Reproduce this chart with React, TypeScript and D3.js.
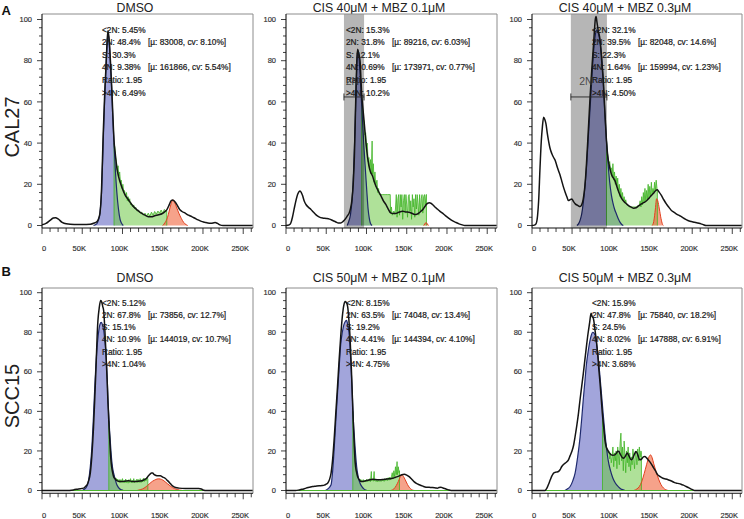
import React from 'react';
import * as d3 from 'd3';

type Pt = [number, number];

// ---------- text content ----------
const panelTitles = ["DMSO", "CIS 40μM + MBZ 0.1μM", "CIS 40μM + MBZ 0.3μM", "DMSO", "CIS 50μM + MBZ 0.1μM", "CIS 50μM + MBZ 0.3μM"];
const rowLabels = ["CAL27", "SCC15"];
const rowLetters = ["A", "B"];
const xTickValues = [0, 50, 100, 150, 200, 250];
const xTickLabels = ["0", "50K", "100K", "150K", "200K", "250K"];
const yTickValues = [0, 20, 40, 60, 80, 100];

const statLines: string[][] = [
  ["<2N: 5.45%", "2N: 48.4%", "S: 30.3%", "4N: 9.38%", "Ratio: 1.95", ">4N: 6.49%"],
  ["<2N: 15.3%", "2N: 31.8%", "S: 12.1%", "4N: 0.69%", "Ratio: 1.95", ">4N: 10.2%"],
  ["<2N: 32.1%", "2N: 39.5%", "S: 22.3%", "4N: 1.64%", "Ratio: 1.95", ">4N: 4.50%"],
  ["<2N: 5.12%", "2N: 67.8%", "S: 15.1%", "4N: 10.9%", "Ratio: 1.95", ">4N: 1.04%"],
  ["<2N: 8.15%", "2N: 63.5%", "S: 19.2%", "4N: 4.41%", "Ratio: 1.95", ">4N: 4.75%"],
  ["<2N: 15.9%", "2N: 47.8%", "S: 24.5%", "4N: 8.02%", "Ratio: 1.95", ">4N: 3.68%"],
];
const fitG1Labels = ["[µ: 83008, cv: 8.10%]", "[µ: 89216, cv: 6.03%]", "[µ: 82048, cv: 14.6%]", "[µ: 73856, cv: 12.7%]", "[µ: 74048, cv: 13.4%]", "[µ: 75840, cv: 18.2%]"];
const fitG2Labels = ["[µ: 161866, cv: 5.54%]", "[µ: 173971, cv: 0.77%]", "[µ: 159994, cv: 1.23%]", "[µ: 144019, cv: 10.7%]", "[µ: 144394, cv: 4.10%]", "[µ: 147888, cv: 6.91%]"];

// gates (K units), null = no gate
const gateRanges: ([number, number] | null)[] = [null, [72, 97], [48.5, 93.5], null, null, null];
const gateBarLevel = 62.4;
const gateLabel = "2N";

// ---------- data (x in K, y in % of max) ----------
const a1Total: Pt[] = [[0,0.3],[5,1],[10,2.5],[14,3.6],[17,3.8],[20,3.2],[25,1.5],[30,0.8],[40,0.5],[50,0.5],[60,0.6],[65,1.2],[68,1.8],[70,3],[72,6],[74,18],[76,44],[78,65],[79.5,77],[81,90],[82,94.5],[83.5,90],[85,80],[86.5,68],[88,54],[89.5,41],[91,35],[93,28],[95,24],[99,18.8],[103,15],[107.5,12.4],[112,10],[116,8.3],[120,7],[124,5.9],[128,5],[132,4.3],[136,4.2],[140,4.7],[145,5.2],[149,5.7],[152,6.5],[155,7.6],[158,10],[160,11.8],[162,12.4],[164,12],[167,10.5],[171,7.8],[174,6.8],[177.5,6.1],[182,5],[186,4.3],[190,3.5],[194,2.7],[198,2],[202,1.6],[206,1.2],[210,1.1],[215,1.4],[218,1],[221,0.3],[225,0],[262,0]];
const a1G1: Pt[] = [[64,0],[68,0.8],[70,2.5],[72,6],[74,16],[76,40],[78,63],[79.5,77],[81,89],[82,93],[83.5,89],[85,79],[86.5,67],[88,52],[89.5,40],[91,28],[93,16],[95,8],[97,3],[99,1],[101,0]];
const a1S: Pt[] = [[89.5,0],[89.5,40],[90.5,38],[91.5,33],[92.5,31],[93.5,27],[94.5,29],[95.5,24],[96.5,26],[97.5,21],[98.5,22],[99.5,18],[100.5,20],[101.5,16],[102.5,17],[104,14],[105,16],[106,12],[107,14],[108,11.5],[109,13],[110,10],[111,11],[112.5,9],[114,10],[115,8],[116.5,8.8],[118,7],[120,7.5],[122,6],[124,6.5],[126,5],[128,6],[130,4.5],[132,6],[134,4.5],[136,6.5],[138,5],[140,6.8],[142,5.5],[144,7],[146,6],[148,7.5],[150,6],[152,7.8],[154,7],[155,7],[155,0]];
const a1G2: Pt[] = [[150,0],[153,1.5],[156,4],[158,7],[160,10],[162,12.2],[163,12.4],[165,11],[167,9],[170,6],[173,3.5],[176,1.5],[179,0.4],[181,0]];

const a2Total: Pt[] = [[0,0],[4,0.3],[6,1.2],[8,4],[10,7.8],[12,11.5],[14.5,15.2],[17.4,16.8],[19,16],[20.7,14.4],[22.5,12],[24.8,10.2],[28,8.8],[31,7.8],[34,6.5],[37,5.3],[41,4.2],[45.5,3.6],[50,3.4],[54,3.1],[58,2.4],[62,1.7],[65,1.2],[68,1.2],[71,2],[74.5,3.6],[76.5,4.8],[78.5,6.1],[80,8],[82,12.7],[83.5,20],[85,34],[86,50],[87,67],[88,80],[89,85.6],[90,84],[92,80],[93,72],[94,64],[95.5,57],[97,50.7],[98.5,44],[100,37.5],[103,29],[105,26],[107.5,24],[109.5,21.5],[111.5,19.3],[115,16.5],[118,14.4],[121,12],[124,10.2],[127,8],[130,6.1],[133,5.8],[136,5.8],[140,6.4],[145,6.9],[149,6.6],[153,6.4],[157,5.8],[161,5.3],[165,6],[168,7],[170,7.8],[173,9.5],[176,10.8],[178,11],[180,10.8],[182,10.2],[185,9],[188,8],[191,7],[194,6.1],[198,4.8],[202,3.6],[206,2.5],[211,1.5],[215,0.8],[219,0.3],[222,0],[262,0]];
const a2G1: Pt[] = [[76,0],[78,2],[80,5],[82,12],[83.5,22],[85,38],[86.5,58],[88,78],[89,85],[90,84],[91.5,77],[93,66],[94.5,55],[96,44],[97.5,34],[99,25],[100.5,16],[102,8],[103.5,3.5],[105,1],[107,0]];
const a2S: Pt[] = [[94,0],[94,62],[95,58],[96,52],[97,50],[98,44],[99,45],[100,38],[101,40],[102,31],[103,33],[104,27],[105,32],[106,25],[107,41],[107.5,25],[108.5,30],[109.5,21],[110.5,26],[111.5,19],[113,22],[114,16],[115,18],[116,15],[118,15],[120,15],[122,15],[124,15],[126,15],[128,15],[129.5,15],[130,6],[131,9],[132,5],[134,7],[135,5.5],[136,8],[137,15],[138,4],[139,13],[140,15],[141,5],[142,15],[143,9],[144,15],[145,3],[146,12],[147,15],[148,6],[149,15],[150,10],[151,4],[152,14],[153,15],[154,7],[155,12],[156,3],[157,15],[158,9],[159,13],[160,4],[161,15],[162,8],[163,15],[164,11],[165,5],[166,15],[167,7],[168,13],[169,15],[170,6],[171,14],[172,15],[173,10],[174,15],[174.5,15],[174.5,0]];
const a2G2: Pt[] = [[171,0],[172.5,0.8],[174,1.5],[175.5,0.8],[177,0]];

const a3Total: Pt[] = [[0,0],[3,0.2],[5,0.8],[7,5],[8.3,12],[10,28],[11.6,41],[13,48],[14.5,52.6],[16,51.5],[17.4,49.4],[19,45],[20.7,41],[22.5,37.5],[24.8,34.8],[27,33],[29,31.6],[31,29],[33,26.7],[35,24.5],[37,21.8],[39,19],[41.4,16.2],[43.5,14],[45.5,12.1],[47.5,12.5],[49.7,12.9],[52,11.5],[54,10.5],[57,9.8],[60,9.2],[62,10],[64,12.9],[66,19],[68,30],[70,44],[72.5,62.3],[74.5,75],[76.6,86.6],[78,95],[79,100],[80,101.5],[81,99],[82.5,95],[85,90],[87,80],[89,70],[91,55],[93,41],[94.5,34],[96,30],[99,25],[103.5,21.8],[107.6,17],[112,13],[115,11.5],[118,10.5],[121,9.5],[124,8.9],[127,8.4],[130,8.6],[133,9.5],[136.6,10.5],[140,11.2],[143,12],[146,13.2],[149,14.6],[152,15.8],[154.5,17],[156.5,17.3],[158.5,16.3],[161.5,14.6],[164.5,12.5],[167.7,10.5],[171,8.8],[174,7.3],[177,6.5],[180,5.7],[183,5],[186,4.4],[190,3.4],[194.6,2.4],[199,1.9],[203,1.6],[207,1.2],[211,0.8],[214,0.4],[217,0],[262,0]];
const a3G1: Pt[] = [[56,0],[58,0.8],[60,2.5],[62,5.5],[64,11],[66,18.6],[68,28],[70,41],[72.5,57],[74.5,70],[76.6,83],[78.5,91],[80.7,95],[83,93],[85,89],[87,82],[89,70],[91,54],[93,41],[95,30],[97,21],[99,15],[101,11],[103,8],[105.5,5.5],[108,3],[110,1.5],[112,0.5],[114,0]];
const a3S: Pt[] = [[93,0],[93,41],[94,36],[95,33],[96,30],[97,31],[98,27],[99,28],[100,24],[101,30],[102,22],[103,26],[104,20],[105,24],[106,19],[107,23],[108,16],[109,20],[110,14],[111,18],[112,13],[113,16],[114,12],[115,14],[116,11],[117,12.5],[118,10.5],[120,9.5],[122,9],[124,9],[126,9],[128,9],[130,9],[132,9.5],[134,10],[135,12],[136,9],[137,14],[138,10],[139,16],[140,11],[141,18],[142,12],[143,17],[144,12.5],[145,20],[146,13],[147,19],[148,14],[149,21],[150,15],[151,18],[152,16],[153,21],[154,17],[155,22],[156,18],[156.5,17],[156.5,0]];
const a3G2: Pt[] = [[150,0],[152,2],[154,8],[155.5,13],[157,12],[159,8],[161,3.5],[163,0.5],[164,0]];

const b1Total: Pt[] = [[0,0],[30,0],[39,0.3],[45.5,0.8],[51.7,1.2],[54,2],[56,2.9],[58,5],[60,8.8],[62,18],[64,32],[65.5,46],[67,61],[68.5,78],[69.5,86],[71,92],[72.8,96],[74,95.5],[75.5,93],[76.6,91],[78,82],[79.5,69],[81,55],[82,44],[83,35],[84,27],[85,19],[86,13.8],[87.5,9.5],[89,7],[91,5.8],[93,5],[96,4.6],[99,4.5],[103,4.7],[107.6,4.9],[112,4.6],[116,4.5],[120,4.7],[124,4.9],[127,5.5],[130,6.2],[132,7.3],[134.5,8.4],[136,8.8],[137.5,8.8],[139.5,8],[141.6,7.6],[144,7.4],[147,7.4],[150,6.8],[153,6.2],[156,5],[159,3.7],[161,2.8],[163.5,2],[166,1.5],[170,1.2],[178,1],[186,1],[194.6,1],[198,0.8],[200,0.3],[205,0],[262,0]];
const b1G1: Pt[] = [[50,0],[52,0.5],[55,1.5],[58,5.4],[60,12],[62,22],[64,38],[66,56],[68,70],[70,79],[72,84],[73.5,85],[75,84],[76.6,81],[78,76],[79.5,69],[81,57],[82,46],[83,38],[84,30],[85,24],[86,18],[87.5,12],[89,8.8],[91,5.5],[93,2.9],[96,1],[99,0.3],[101,0]];
const b1S: Pt[] = [[83,0],[83,35],[84,28],[85,22],[86,16],[87,12],[88,9.5],[89,8],[90,7],[91,6],[92,6.3],[93,5],[94,5.8],[95,4.5],[96,5.5],[97,4],[98,5.5],[99,4.2],[100,6],[101,4],[102,5.2],[103,3.8],[104,5.8],[105,4],[106,5],[107,3.7],[108,5.5],[109,4],[110,6],[111,3.9],[112,5.2],[113,4],[114,6],[115,3.9],[116,5],[117,4.2],[118,5.8],[119,4],[120,5.5],[121,4.1],[122,6],[123,4],[124,5.4],[125,4.3],[126,6.2],[127,4.5],[128,6],[129,4.8],[130,6.5],[131.5,6],[131.5,0]];
const b1G2: Pt[] = [[118,0],[122,0.4],[125,0.8],[128,1.5],[131,2.5],[134,3.6],[137,4.6],[140,5.3],[143,5.8],[145,5.9],[147,5.8],[150,5.3],[153,4.4],[156,3.4],[159,2.4],[162,1.5],[165,0.9],[168,0.5],[171,0.2],[175,0]];

const b2Total: Pt[] = [[0,0],[12,0],[16.5,0.3],[20,0.6],[25,1.2],[29,1.6],[33,2],[37,2.2],[41.4,2.4],[45,2.5],[47.6,2.7],[50,3.2],[51.7,3.7],[54,5.5],[56,8.8],[58,16],[60,27],[62,40],[64,52.5],[66,66],[68,78],[70,88],[72,94],[73.5,95.5],[75,95],[76.6,93],[78,87],[79.5,78],[81,64],[82,52.5],[83,41],[84,30.6],[85,21],[86,13.8],[87.5,9.5],[89,7],[91,5.5],[93,4.5],[96,4.6],[99,4.9],[103,5.3],[107.6,5.7],[112,5.5],[116,5.4],[120,5.5],[124,5.7],[128,5.9],[132.5,6.2],[136,6.7],[140.8,7.4],[144,8],[147,8.2],[150,7.8],[153,7],[156,5.8],[159,4.5],[162,3.6],[165.6,2.9],[170,2.2],[174,1.7],[178,1.6],[182,1.5],[186,1.3],[188,1.2],[190,1.5],[192.5,1.7],[195,1.3],[198.7,0.8],[202,0.3],[205,0],[262,0]];
const b2G1: Pt[] = [[49,0],[52,0.8],[56,2.9],[58,10],[60,22],[62,36],[64,49],[66,62],[68,74],[70,80],[72.5,84.5],[75.3,86],[77,83],[78.7,78],[80,69],[81,61],[82,52.5],[83,42],[84,33],[85,27],[86.5,18],[87.8,12],[89,8.5],[90.5,5.5],[92,3.7],[94.5,1.8],[97,0.7],[101,0]];
const b2S: Pt[] = [[83,0],[83,40],[84,30],[85,22],[86,15],[87,11],[88,8.5],[89,7],[90,6],[91,5.2],[92,5.8],[93,4.6],[94,5.4],[95,4.5],[96,5.5],[97,4.4],[98,5],[99,4.3],[100,5.6],[101,4.5],[102,5.5],[103,4.6],[104,6],[105,4.5],[106,9.6],[106.5,5],[107.5,5.8],[108.5,4.7],[109.5,9.6],[110,5],[111,5.5],[112,4.5],[113,5.3],[114,4.4],[115,5.5],[116,4.6],[117,5.2],[118,4.5],[119,5.7],[120,4.8],[121,5.5],[122,4.6],[123,6],[124,5],[125,6.2],[126,5],[127,6.5],[128,5.2],[129,6.8],[130,5.5],[131,7],[132,9],[133,6],[134,10],[135,7],[136,12],[137,8],[138,14.6],[138.5,8],[139.5,12],[140.5,9],[141,10],[141,0]];
const b2G2: Pt[] = [[130,0],[134,0.8],[137,2.5],[139.5,4.5],[141.5,6.5],[144,7.9],[146,7],[148,5.5],[150,3.8],[152,2.3],[154,1.2],[156,0.5],[158,0.1],[160,0]];

const b3Total: Pt[] = [[0,0],[16,0],[18.6,1.2],[20.5,3],[22.8,5.4],[25,7.5],[27,8.8],[30,9.3],[33,9.6],[35,10.5],[37,12],[39,13],[41.4,13.8],[43.5,14.5],[45.5,15.5],[47.5,17.5],[49.7,19.7],[52,23],[53.8,27.3],[56,33],[58,39],[60,46],[62,52.5],[64,59],[66,66],[68,73],[70,79.5],[72,85],[73.7,89.6],[75,88],[76.6,87],[78.7,81],[80.5,75],[82,69],[83.5,61],[85,54],[86.5,46],[87.8,39],[89.5,32],[91,25.6],[92.7,22],[94.4,20.5],[96.5,19],[99,18],[101,17.8],[103.5,18],[105.5,19],[107,19.8],[108.5,19.7],[110,18.5],[112,17],[114,16.3],[116,17],[119,18.9],[121,17.5],[124,15.5],[126,16.5],[128,18.5],[130,19.7],[132,18],[134.5,15.5],[137,16],[139,17],[140.8,17.2],[143,16.5],[145,15.5],[148,14],[151,12],[154,10],[157,7.9],[160,7],[163.5,6.2],[167,5.8],[170,5.4],[174,4.8],[178,4],[182,3.6],[186,3.2],[189,2.7],[192.5,2],[196,1.3],[198.7,0.7],[201,0.3],[203,0],[262,0]];
const b3G1: Pt[] = [[41,0],[44,0.8],[47.6,2],[51,5],[53.8,8.8],[57,17],[60,27],[62,36],[64,46],[66,55],[68,64],[70,70],[72.5,76],[74,78.5],[75.8,80],[77.5,79.5],[79.5,77.8],[81,73],[83,66],[85,57],[87,47.5],[89,38],[91,29],[93,21.5],[95,15.5],[98,10],[101,6.2],[104,3.8],[107.6,2],[111,0.8],[114,0.3],[116,0]];
const b3S: Pt[] = [[88,0],[88,39],[89,34],[90,30],[91,27],[92,24],[93,22],[94,20.5],[95,19],[96,20],[97,16],[98,19],[99,14],[100,17],[101,22],[102,12],[103,19],[104,15],[105,20],[106,11],[107,22],[108,17],[109,13],[110,24],[111,29],[112,15],[113,22],[114,10],[115,25],[116,18],[117,9],[118,20],[119,14],[120,22],[121,12],[122,19],[123,10],[124,17],[125,13],[126,21],[127,16],[128,11],[129,20],[130,18],[131,13],[132,21],[133,15],[134,22],[135,17],[136,20],[136.6,19],[136.6,0]];
const b3G2: Pt[] = [[127,0],[131,0.8],[134,2],[137,4.5],[140,8.5],[143,13],[145.5,16.5],[148,18],[150,16.5],[152,13.5],[155,9.5],[158,5.8],[161,3],[164,1.3],[167,0.4],[170,0]];

const totals = [a1Total, a2Total, a3Total, b1Total, b2Total, b3Total];
const g1Fits = [a1G1, a2G1, a3G1, b1G1, b2G1, b3G1];
const sFits = [a1S, a2S, a3S, b1S, b2S, b3S];
const g2Fits = [a1G2, a2G2, a3G2, b1G2, b2G2, b3G2];

// ---------- layout ----------
const W = 744, H = 519;
const FONT = "Liberation Sans, Arial, Helvetica, sans-serif";
const cols = [{ x0: 42, x1: 253 }, { x0: 286, x1: 497 }, { x0: 532, x1: 742 }];
const rows = [
  { top: 14, yZero: 225.5, yHundred: 19.5, axisY: 228, labelY: 251, titleY: 11.6, statY: 32.6, statStep: 12.6, letterY: 14.5, rowLabelY: 127, greenBase: false },
  { top: 288, yZero: 490.5, yHundred: 292.7, axisY: 493.3, labelY: 517.6, titleY: 281.8, statY: 305.5, statStep: 12.3, letterY: 276, rowLabelY: 396, greenBase: true },
];
const X_MAX = 262.144;
const TEXT_STROKE = { stroke: '#1a1a1a', strokeWidth: 0.22 };

function Panel({ idx }: { idx: number }) {
  const row = rows[Math.floor(idx / 3)];
  const col = cols[idx % 3];
  const x = d3.scaleLinear().domain([0, X_MAX]).range([col.x0, col.x1]);
  const y = d3.scaleLinear().domain([0, 100]).range([row.yZero, row.yHundred]);
  const line = d3.line<Pt>().x(d => x(d[0])).y(d => y(d[1]));
  const smoothLine = d3.line<Pt>().x(d => x(d[0])).y(d => y(d[1])).curve(d3.curveMonotoneX);
  const area = d3.area<Pt>().x(d => x(d[0])).y0(y(0)).y1(d => y(d[1]));
  const smoothArea = d3.area<Pt>().x(d => x(d[0])).y0(y(0)).y1(d => y(d[1])).curve(d3.curveMonotoneX);
  const gate = gateRanges[idx];
  const minorY = d3.range(0, 101, 4);
  const minorX = d3.range(0, 261, 10);
  const clipId = `clip${idx}`;
  return (
    <g>
      <defs>
        <clipPath id={clipId}>
          <rect x={col.x0} y={row.top} width={col.x1 - col.x0} height={row.axisY - row.top} />
        </clipPath>
      </defs>
      <text x={col.x0 + 93} y={row.titleY} textAnchor="middle" fontSize={12.3} fill="#222" fontFamily={FONT}>{panelTitles[idx]}</text>
      <g clipPath={`url(#${clipId})`}>
        <path d={smoothArea(g1Fits[idx]) || ''} fill="#a2a5db" />
        <path d={area(sFits[idx]) || ''} fill="rgb(110,200,70)" fillOpacity={0.55} />
        <path d={smoothArea(g2Fits[idx]) || ''} fill="rgb(240,100,60)" fillOpacity={0.6} />
        <path d={line(sFits[idx]) || ''} fill="none" stroke="#3fb424" strokeWidth={0.8} />
        <path d={smoothLine(g2Fits[idx]) || ''} fill="none" stroke="#e2401f" strokeWidth={1} />
        <path d={smoothLine(g1Fits[idx]) || ''} fill="none" stroke="#1f2a6e" strokeWidth={1.2} />
        {gate && (
          <rect x={x(gate[0])} y={row.top} width={x(gate[1]) - x(gate[0])} height={row.axisY - row.top}
            fill="#b6b6b6" style={{ mixBlendMode: 'multiply' }} />
        )}
        {row.greenBase && <line x1={col.x0} x2={col.x1} y1={y(0)} y2={y(0)} stroke="#4cb82c" strokeWidth={1} />}
        <path d={smoothLine(totals[idx]) || ''} fill="none" stroke="#141414" strokeWidth={1.5} />
      </g>
      {/* frame */}
      <line x1={col.x0} x2={col.x1} y1={row.top} y2={row.top} stroke="#8c8c8c" strokeWidth={1} />
      <line x1={col.x1} x2={col.x1} y1={row.top} y2={row.axisY} stroke="#8c8c8c" strokeWidth={1} />
      <line x1={col.x0} x2={col.x0} y1={row.top} y2={row.axisY} stroke="#111" strokeWidth={1.1} />
      <line x1={col.x0} x2={col.x1} y1={row.axisY} y2={row.axisY} stroke="#111" strokeWidth={1.1} />
      {minorY.map(v => (
        <line key={'yt' + v} x1={col.x0} x2={col.x0 - (v % 20 === 0 ? 5 : 3)} y1={y(v)} y2={y(v)} stroke="#111" strokeWidth={0.8} />
      ))}
      {minorX.map(v => (
        <line key={'xt' + v} x1={x(v)} x2={x(v)} y1={row.axisY} y2={row.axisY + (v % 50 === 0 ? 6 : 4)} stroke="#111" strokeWidth={0.8} />
      ))}
      {yTickValues.map(v => (
        <text key={'yl' + v} x={col.x0 - 10} y={y(v) + 2.6} textAnchor="end" fontSize={7.5} fill="#333" fontFamily={FONT} {...TEXT_STROKE} strokeWidth={0.15}>{v}</text>
      ))}
      {xTickValues.map((v, i) => (
        <text key={'xl' + v} x={x(v) + (v === 0 ? 2 : -3)} y={row.labelY} textAnchor="middle" fontSize={7.5} fill="#333" fontFamily={FONT} {...TEXT_STROKE} strokeWidth={0.15}>{xTickLabels[i]}</text>
      ))}
      {/* statistics */}
      {statLines[idx].map((s, i) => (
        <text key={'s' + i} x={col.x0 + 60} y={row.statY + i * row.statStep} fontSize={8.3} fill="#1a1a1a" fontFamily={FONT} {...TEXT_STROKE}>{s}</text>
      ))}
      <text x={col.x0 + 106} y={row.statY + row.statStep} fontSize={8.3} fill="#1a1a1a" fontFamily={FONT} {...TEXT_STROKE}>{fitG1Labels[idx]}</text>
      <text x={col.x0 + 106} y={row.statY + 3 * row.statStep} fontSize={8.3} fill="#1a1a1a" fontFamily={FONT} {...TEXT_STROKE}>{fitG2Labels[idx]}</text>
      {gate && (
        <g stroke="#222" strokeWidth={0.9}>
          <line x1={x(gate[0])} x2={x(gate[1])} y1={y(gateBarLevel)} y2={y(gateBarLevel)} />
          <line x1={x(gate[0])} x2={x(gate[0])} y1={y(gateBarLevel) - 3.5} y2={y(gateBarLevel) + 3.5} />
          <line x1={x(gate[1])} x2={x(gate[1])} y1={y(gateBarLevel) - 3.5} y2={y(gateBarLevel) + 3.5} />
          <text x={x(gate[0]) + 0.42 * (x(gate[1]) - x(gate[0]))} y={y(gateBarLevel) - 12} textAnchor="middle" fontSize={10.5}
            fill="#333" fillOpacity={0.85} stroke="none" fontFamily={FONT}>{gateLabel}</text>
        </g>
      )}
    </g>
  );
}

export default function App() {
  return (
    <svg width={W} height={H} viewBox={`0 0 ${W} ${H}`} style={{ position: 'absolute', left: 0, top: 0, background: '#fff' }}>
      <rect x={0} y={0} width={W} height={H} fill="#fff" />
      {rows.map((r, ri) => (
        <g key={'row' + ri}>
          <text x={1.5} y={r.letterY} fontSize={13} fontWeight="bold" fill="#111" fontFamily={FONT}>{rowLetters[ri]}</text>
          <text transform={`translate(18.5,${r.rowLabelY}) rotate(-90)`} textAnchor="middle" fontSize={20} fill="#222" fontFamily={FONT}>{rowLabels[ri]}</text>
        </g>
      ))}
      {[0, 1, 2, 3, 4, 5].map(i => <Panel key={i} idx={i} />)}
    </svg>
  );
}
